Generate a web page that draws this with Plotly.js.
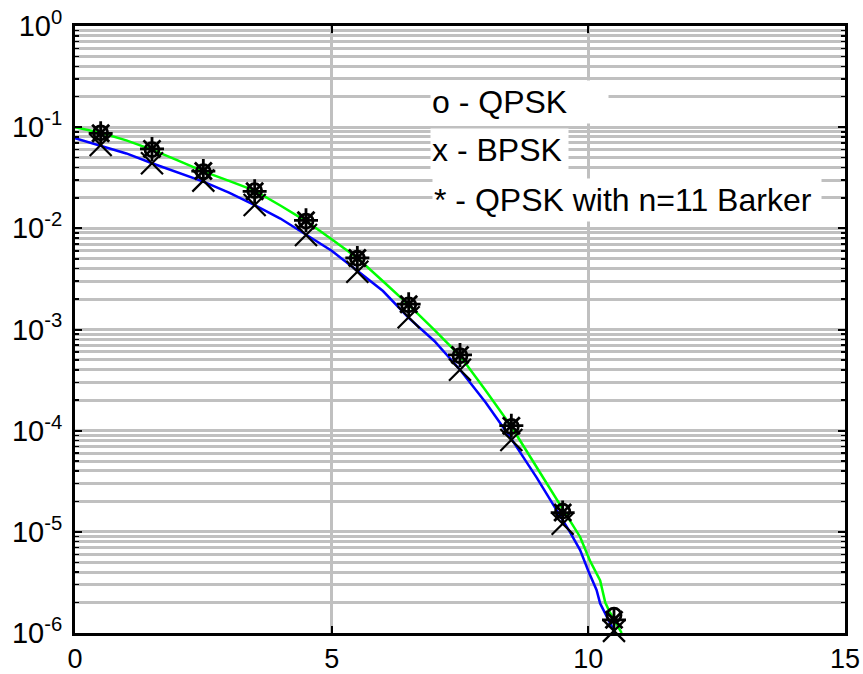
<!DOCTYPE html>
<html>
<head>
<meta charset="utf-8">
<script src="https://cdn.plot.ly/plotly-3.0.1.min.js"></script>
<style>html,body{margin:0;padding:0;background:#fff;}#chart{width:863px;height:674px;}</style>
</head>
<body>
<div id="chart"></div>
<script>
// Eb/N0 sample points for the markers (dB)
const markerX = [0.5, 1.5, 2.5, 3.5, 4.5, 5.5, 6.5, 7.5, 8.5, 9.5, 10.5];
// 'o' - QPSK
const qpskBER = [0.088, 0.060, 0.0363, 0.0236, 0.0118, 0.00506, 0.00175, 0.00055, 0.00011, 1.6e-5, 1.5e-6];
// 'x' - BPSK
const bpskBER = [0.0667, 0.044, 0.0296, 0.017, 0.0086, 0.00373, 0.00132, 0.0004, 8.1e-5, 1.2e-5, 1.05e-6];
// '*' - QPSK with n=11 Barker
const barkerBER = [0.087, 0.061, 0.0368, 0.0232, 0.012, 0.0051, 0.00178, 0.00056, 0.000112, 1.55e-5, 1.35e-6];

// green curve
const greenX = [0, 0.5, 1.0, 1.5, 2.0, 2.5, 3.0, 3.5, 4.0, 4.5, 5.0, 5.5, 6.0, 6.5, 7.0, 7.5, 8.0, 8.5, 9.0, 9.67, 9.84, 10.03, 10.23, 10.33, 10.42, 10.65];
const greenY = [0.100, 0.088, 0.074, 0.060, 0.047, 0.0365, 0.0295, 0.0236, 0.0168, 0.0118, 0.0078, 0.0051, 0.0030, 0.00175, 0.00099, 0.00055, 0.00025, 0.00011, 4.3e-5, 1.2e-5, 8.9e-6, 5.2e-6, 3.3e-6, 2.0e-6, 1.6e-6, 1.0e-6];
// blue curve
const blueX = [0, 0.5, 1.0, 1.5, 2.0, 2.5, 3.0, 3.5, 4.0, 4.5, 5.0, 5.5, 6.0, 6.5, 7.0, 7.5, 8.0, 8.5, 9.0, 9.64, 9.84, 10.0, 10.16, 10.23, 10.33, 10.52];
const blueY = [0.078, 0.066, 0.055, 0.044, 0.036, 0.029, 0.0225, 0.017, 0.0125, 0.0087, 0.006, 0.0038, 0.0024, 0.0013, 0.00077, 0.0004, 0.00019, 8.3e-5, 3.4e-5, 1.0e-5, 6.6e-6, 4.1e-6, 2.66e-6, 1.96e-6, 1.55e-6, 1.0e-6];

const xTickVals = [0, 5, 10, 15];
const xTickText = ['0', '5', '10', '15'];
const yTickVals = [1e-6, 1e-5, 1e-4, 1e-3, 1e-2, 1e-1, 1];
const yTickText = ['10<sup>-6</sup>', '10<sup>-5</sup>', '10<sup>-4</sup>', '10<sup>-3</sup>', '10<sup>-2</sup>', '10<sup>-1</sup>', '10<sup>0</sup>'];

const legendTexts = ['o - QPSK', 'x - BPSK', '* - QPSK with n=11 Barker'];

const FONT = 'Liberation Sans, Arial, sans-serif';

const traces = [
  {x: blueX, y: blueY, mode: 'lines', line: {color: '#0000ff', width: 2.5}},
  {x: greenX, y: greenY, mode: 'lines', line: {color: '#00ff00', width: 2.5}},
  {x: markerX, y: bpskBER, mode: 'markers', cliponaxis: false,
   marker: {symbol: 'x-thin-open', size: 22, color: 'black', line: {color: 'black', width: 2.2}}},
  {x: markerX, y: qpskBER, mode: 'markers', cliponaxis: false,
   marker: {symbol: 'circle-open', size: 14, color: 'black', line: {color: 'black', width: 2.8}}},
  {x: markerX, y: barkerBER, mode: 'markers', cliponaxis: false,
   marker: {symbol: 'asterisk-open', size: 20, color: 'black', line: {color: 'black', width: 2.8}}}
];

const boxes = [
  {x: 0.461, y: 0.8756, w: 175},
  {x: 0.461, y: 0.7957, w: 135},
  {x: 0.4636, y: 0.7133, w: 386}
];
const annotations = legendTexts.map((t, i) => ({
  xref: 'paper', yref: 'paper', x: boxes[i].x, y: boxes[i].y,
  xanchor: 'left', yanchor: 'middle', align: 'left',
  text: t, showarrow: false, bgcolor: 'white', borderpad: 1,
  width: boxes[i].w, height: 40,
  font: {family: FONT, size: 32, color: 'black'}
}));

const layout = {
  width: 863, height: 674,
  margin: {l: 75, r: 18, t: 26, b: 41, pad: 0},
  paper_bgcolor: 'white', plot_bgcolor: 'white',
  showlegend: false,
  font: {family: FONT, size: 28, color: 'black'},
  xaxis: {
    range: [0, 15], tickmode: 'array', tickvals: xTickVals, ticktext: xTickText,
    ticks: 'inside', ticklen: 7, tickwidth: 2, tickcolor: 'black',
    showline: true, linewidth: 3, linecolor: 'black', mirror: 'ticks',
    showgrid: true, gridcolor: '#c0c0c0', gridwidth: 3, zeroline: false,
    ticklabelstandoff: 0,
    tickfont: {family: FONT, size: 27, color: 'black'}
  },
  yaxis: {
    type: 'log', range: [-6, 0], tickmode: 'array', tickvals: yTickVals, ticktext: yTickText,
    ticks: 'inside', ticklen: 7, tickwidth: 2, tickcolor: 'black',
    showline: true, linewidth: 3, linecolor: 'black', mirror: 'ticks',
    showgrid: true, gridcolor: '#c0c0c0', gridwidth: 3, zeroline: false,
    ticklabelstandoff: 4,
    tickfont: {family: FONT, size: 29, color: 'black'},
    minor: {tickmode: 'linear', dtick: 'D1', ticks: 'inside', ticklen: 4, tickwidth: 1.5, tickcolor: 'black',
            showgrid: true, gridcolor: '#c0c0c0', gridwidth: 3}
  },
  annotations: annotations
};

Plotly.newPlot('chart', traces, layout, {displayModeBar: false, staticPlot: true});
</script>
</body>
</html>
